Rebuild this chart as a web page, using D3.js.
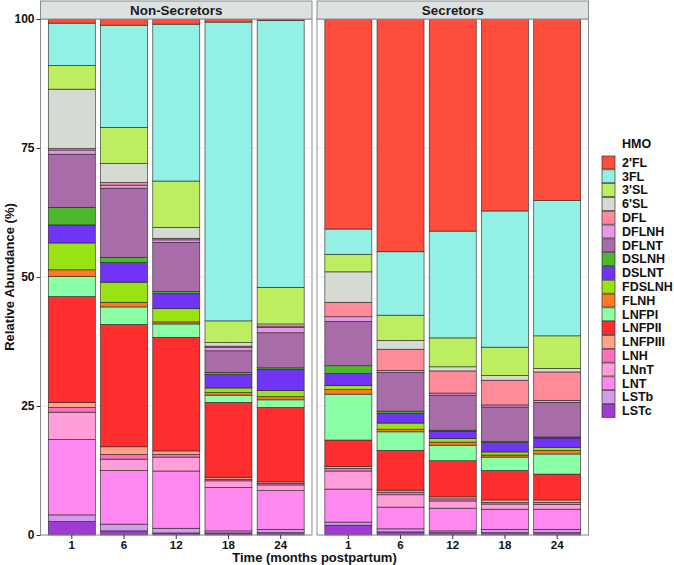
<!DOCTYPE html>
<html>
<head>
<meta charset="utf-8">
<script src="https://cdn.jsdelivr.net/npm/d3@7"></script>
<style>
  html, body { margin: 0; padding: 0; background: #fff; }
  svg { display: block; font-family: "Liberation Sans", Arial, sans-serif; }
</style>
</head>
<body>
<svg id="chart" width="674" height="565"></svg>
<script>
// ---------- DATA ----------
const hmos = ["2'FL","3FL","3'SL","6'SL","DFL","DFLNH","DFLNT","DSLNH","DSLNT","FDSLNH","FLNH","LNFPI","LNFPII","LNFPIII","LNH","LNnT","LNT","LSTb","LSTc"];
const hmoColors = ["#FF4D3D","#92F0E4","#BDEE62","#D5DBD3","#FF8A9A","#E896E8","#A86CA8","#4CB92C","#7034F5","#9AE312","#FF7A20","#8AFFA6","#FF2E2E","#FFA287","#FF6EBE","#FF9ED8","#FF88F0","#D39BEB","#A03AD5"];
const timepoints = ["1","6","12","18","24"];
const groups = ["Non-Secretors","Secretors"];
const yTicks = [0,25,50,75,100];

// values in hmos order, one array per bar (relative abundance %)
const nonSec_1  = [0.8, 8.2, 4.6,11.5,0.3,0.8,10.3,3.4,3.5,5.2,1.3,3.9,20.5,1.0,0.9,5.3,14.6,1.3,2.6];
const nonSec_6  = [1.2,19.8, 7.0, 3.7,0.5,0.6,13.4,1.0,3.8,3.9,0.9,3.4,23.7,1.5,0.9,2.2,10.4,1.3,0.8];
const nonSec_12 = [1.0,30.4, 9.0, 2.1,0.3,0.5, 9.5,0.4,2.9,2.6,0.4,2.6,22.0,0.7,0.5,2.7,11.1,0.9,0.4];
const nonSec_18 = [0.6,57.9, 4.2, 0.7,0.2,0.7, 4.2,0.4,2.6,0.9,0.5,1.4,14.5,0.4,0.3,1.3, 8.4,0.4,0.4];
const nonSec_24 = [0.3,51.7, 7.1, 0.4,0.3,1.0, 6.8,0.3,4.1,1.2,0.6,1.5,14.4,0.3,0.3,1.1, 7.5,0.65,0.45];
const sec_1  = [40.7, 4.9,3.4,5.9,2.8,0.9,8.6,1.5,2.3,0.8,0.9,8.9,5.1,0.4,0.5,3.5,6.4,0.6,1.9];
const sec_6  = [45.1,12.3,4.9,1.7,4.1,0.4,7.5,0.4,1.9,1.2,0.5,3.6,7.7,0.4,0.5,2.4,4.2,0.6,0.6];
const sec_12 = [41.1,20.7,5.6,0.8,4.3,0.4,6.8,0.2,1.4,0.7,0.6,3.0,7.0,0.4,0.4,1.4,4.4,0.35,0.45];
const sec_18 = [37.2,26.4,5.5,0.9,4.8,0.4,6.7,0.2,1.8,0.6,0.4,2.6,5.7,0.5,0.3,1.0,3.9,0.65,0.45];
const sec_24 = [35.2,26.2,6.3,0.7,5.5,0.4,6.7,0.2,1.8,0.6,0.7,3.9,5.0,0.5,0.4,0.9,3.9,0.65,0.45];

const barValues = {
  "Non-Secretors": [nonSec_1, nonSec_6, nonSec_12, nonSec_18, nonSec_24],
  "Secretors": [sec_1, sec_6, sec_12, sec_18, sec_24]
};

// ---------- LAYOUT ----------
const svg = d3.select("#chart");
const panelTop = 19, panelBottom = 535;
const panels = [
  { group: "Non-Secretors", x0: 40.5, x1: 312 },
  { group: "Secretors", x0: 317, x1: 588.5 }
];
const stripH = 18;

const y = d3.scaleLinear().domain([0,100]).range([panelBottom, panelTop]);
const color = d3.scaleOrdinal().domain(hmos).range(hmoColors);
const stackKeys = hmos.slice().reverse(); // LSTc at bottom, 2'FL on top

panels.forEach((p, pi) => {
  const x = d3.scaleBand().domain(timepoints).range([p.x0, p.x1])
    .paddingInner(0.1).paddingOuter(0.15);

  const g = svg.append("g");
  g.append("rect").attr("x", p.x0).attr("y", panelTop)
    .attr("width", p.x1 - p.x0).attr("height", panelBottom - panelTop)
    .attr("fill", "#fff");

  const minor = [12.5, 37.5, 62.5, 87.5];
  g.selectAll(".gmin").data(minor).join("line")
    .attr("x1", p.x0).attr("x2", p.x1)
    .attr("y1", d => y(d)).attr("y2", d => y(d))
    .attr("stroke", "#F2F2F2").attr("stroke-width", 0.5);
  g.selectAll(".gmaj").data(yTicks).join("line")
    .attr("x1", p.x0).attr("x2", p.x1)
    .attr("y1", d => y(d)).attr("y2", d => y(d))
    .attr("stroke", "#EBEBEB").attr("stroke-width", 1);
  g.selectAll(".gv").data(timepoints).join("line")
    .attr("x1", d => x(d) + x.bandwidth()/2).attr("x2", d => x(d) + x.bandwidth()/2)
    .attr("y1", panelTop).attr("y2", panelBottom)
    .attr("stroke", "#EBEBEB").attr("stroke-width", 1);

  const rows = timepoints.map((t, i) => {
    const row = { time: t };
    hmos.forEach((h, j) => { row[h] = barValues[p.group][i][j]; });
    return row;
  });
  const series = d3.stack().keys(stackKeys)(rows);

  g.selectAll(".layer").data(series).join("g")
    .attr("fill", d => color(d.key))
    .selectAll("rect").data(d => d).join("rect")
      .attr("x", d => x(d.data.time))
      .attr("width", x.bandwidth())
      .attr("y", d => y(d[1]))
      .attr("height", d => Math.max(0, y(d[0]) - y(d[1])))
      .attr("stroke", "#222")
      .attr("stroke-opacity", 0.85)
      .attr("stroke-width", 0.7);

  g.append("rect").attr("x", p.x0).attr("y", panelTop)
    .attr("width", p.x1 - p.x0).attr("height", panelBottom - panelTop)
    .attr("fill", "none").attr("stroke", "#8C8C8C").attr("stroke-width", 1);

  g.append("rect").attr("x", p.x0).attr("y", panelTop - stripH)
    .attr("width", p.x1 - p.x0).attr("height", stripH)
    .attr("fill", "#DCE2E2").attr("stroke", "#8C8C8C").attr("stroke-width", 1);
  g.append("text").attr("x", (p.x0 + p.x1)/2).attr("y", panelTop - stripH/2 + 0.5)
    .attr("text-anchor", "middle").attr("dominant-baseline", "central")
    .attr("font-size", 13.4).attr("font-weight", "bold").attr("fill", "#1a1a1a")
    .text(p.group);

  const xAxis = d3.axisBottom(x).tickSize(4).tickPadding(2);
  const xa = svg.append("g").attr("transform", `translate(0,${panelBottom})`).call(xAxis);
  xa.select(".domain").remove();
  xa.selectAll(".tick line").attr("stroke", "#333");
  xa.selectAll(".tick text").attr("font-size", 11.5).attr("font-weight", "bold")
    .attr("fill", "#111").attr("font-family", "Liberation Sans, Arial, sans-serif");

  if (pi === 0) {
    const yAxis = d3.axisLeft(y).tickValues(yTicks).tickSize(4).tickPadding(2);
    const ya = svg.append("g").attr("transform", `translate(${p.x0},0)`).call(yAxis);
    ya.select(".domain").remove();
    ya.selectAll(".tick line").attr("stroke", "#333");
    ya.selectAll(".tick text").attr("font-size", 12).attr("font-weight", "bold")
      .attr("fill", "#111").attr("font-family", "Liberation Sans, Arial, sans-serif");
  }
});

svg.append("text").attr("x", (panels[0].x0 + panels[1].x1)/2).attr("y", 562)
  .attr("text-anchor", "middle").attr("font-size", 13).attr("font-weight", "bold")
  .attr("fill", "#111").text("Time (months postpartum)");
svg.append("text").attr("transform", `translate(14,${(panelTop + panelBottom)/2}) rotate(-90)`)
  .attr("text-anchor", "middle").attr("font-size", 13).attr("font-weight", "bold")
  .attr("fill", "#111").text("Relative Abundance (%)");

const lg = svg.append("g").attr("transform", "translate(602,138)");
lg.append("text").attr("x", 20).attr("y", 10).attr("font-size", 12.5)
  .attr("font-weight", "bold").attr("fill", "#111").text("HMO");
const items = lg.selectAll(".li").data(hmos).join("g")
  .attr("transform", (d, i) => `translate(0,${18 + i * 13.8})`);
items.append("rect").attr("width", 13).attr("height", 13)
  .attr("fill", d => color(d)).attr("stroke", "#333").attr("stroke-width", 0.7);
items.append("text").attr("x", 20).attr("y", 6.8).attr("dominant-baseline", "central")
  .attr("font-size", 12.5).attr("font-weight", "bold").attr("fill", "#111").text(d => d);
</script>
</body>
</html>
